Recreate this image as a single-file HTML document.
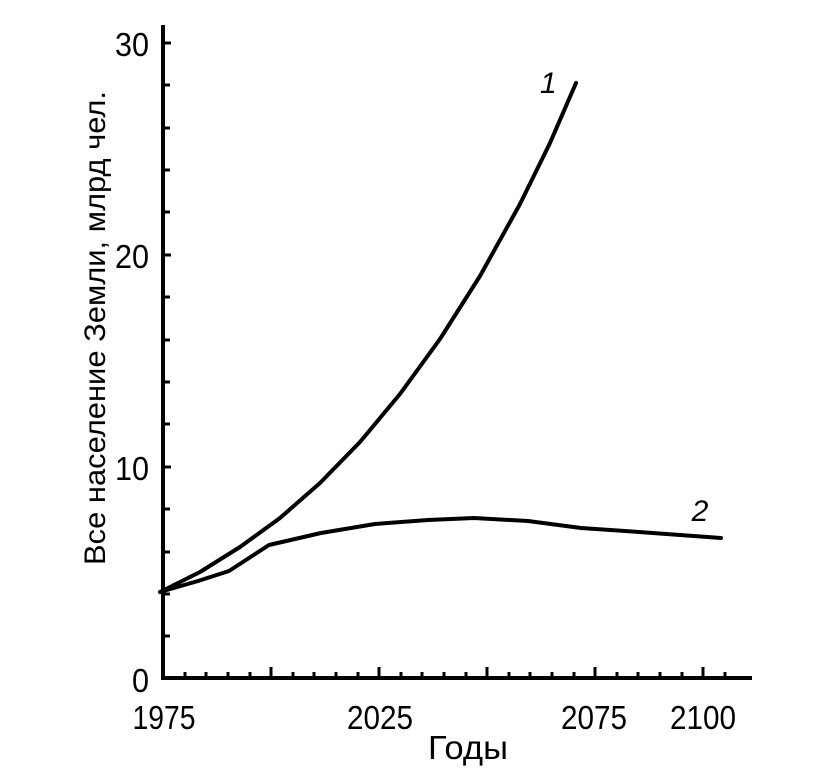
<!DOCTYPE html>
<html><head><meta charset="utf-8"><style>html,body{margin:0;padding:0;background:#fff}</style></head>
<body>
<svg width="836" height="773" viewBox="0 0 836 773" xmlns="http://www.w3.org/2000/svg" font-family="Liberation Sans, sans-serif">
<rect width="836" height="773" fill="#fff"/>
<g stroke="#000" stroke-width="4" fill="none">
<line x1="163" y1="25" x2="163" y2="680"/>
<line x1="161" y1="678" x2="752" y2="678"/>
</g>
<g stroke="#000" stroke-width="3">
<line x1="163" y1="43" x2="171" y2="43"/>
<line x1="163" y1="85" x2="170" y2="85"/>
<line x1="163" y1="128" x2="170" y2="128"/>
<line x1="163" y1="170" x2="170" y2="170"/>
<line x1="163" y1="212" x2="170" y2="212"/>
<line x1="163" y1="255" x2="171" y2="255"/>
<line x1="163" y1="297" x2="170" y2="297"/>
<line x1="163" y1="340" x2="170" y2="340"/>
<line x1="163" y1="382" x2="170" y2="382"/>
<line x1="163" y1="424" x2="170" y2="424"/>
<line x1="163" y1="467" x2="171" y2="467"/>
<line x1="163" y1="509" x2="170" y2="509"/>
<line x1="163" y1="552" x2="170" y2="552"/>
<line x1="163" y1="594" x2="170" y2="594"/>
<line x1="163" y1="636" x2="170" y2="636"/>
</g>
<g stroke="#000" stroke-width="3">
<line x1="185" y1="678" x2="185" y2="672"/>
<line x1="206" y1="678" x2="206" y2="672"/>
<line x1="228" y1="678" x2="228" y2="672"/>
<line x1="250" y1="678" x2="250" y2="672"/>
<line x1="271" y1="678" x2="271" y2="667"/>
<line x1="293" y1="678" x2="293" y2="672"/>
<line x1="314" y1="678" x2="314" y2="672"/>
<line x1="336" y1="678" x2="336" y2="672"/>
<line x1="358" y1="678" x2="358" y2="672"/>
<line x1="379" y1="678" x2="379" y2="667"/>
<line x1="401" y1="678" x2="401" y2="672"/>
<line x1="422" y1="678" x2="422" y2="672"/>
<line x1="444" y1="678" x2="444" y2="672"/>
<line x1="466" y1="678" x2="466" y2="672"/>
<line x1="487" y1="678" x2="487" y2="667"/>
<line x1="509" y1="678" x2="509" y2="672"/>
<line x1="530" y1="678" x2="530" y2="672"/>
<line x1="552" y1="678" x2="552" y2="672"/>
<line x1="574" y1="678" x2="574" y2="672"/>
<line x1="595" y1="678" x2="595" y2="667"/>
<line x1="617" y1="678" x2="617" y2="672"/>
<line x1="638" y1="678" x2="638" y2="672"/>
<line x1="660" y1="678" x2="660" y2="672"/>
<line x1="682" y1="678" x2="682" y2="672"/>
<line x1="703" y1="678" x2="703" y2="667"/>
<line x1="725" y1="678" x2="725" y2="672"/>
</g>
<g fill="none" stroke="#000" stroke-width="4" stroke-linejoin="round" stroke-linecap="round">
<polyline points="160,592 200,572 240,547 280,518 320,483 360,442 400,394 440,339 480,276 520,204 550,143 576,83"/>
<polyline points="160,592 198,581 229,571 269,545 321,533 375,524 428,520 474,518 528,521 581,528 639,532 721,538"/>
</g>
<g font-size="33" fill="#000">
<text x="149" y="56" text-anchor="end" textLength="34" lengthAdjust="spacingAndGlyphs">30</text>
<text x="149" y="268" text-anchor="end" textLength="34" lengthAdjust="spacingAndGlyphs">20</text>
<text x="149" y="480" text-anchor="end" textLength="34" lengthAdjust="spacingAndGlyphs">10</text>
<text x="149" y="692" text-anchor="end" textLength="17" lengthAdjust="spacingAndGlyphs">0</text>
<text x="164" y="729" text-anchor="middle" textLength="63" lengthAdjust="spacingAndGlyphs">1975</text>
<text x="380" y="729" text-anchor="middle" textLength="66" lengthAdjust="spacingAndGlyphs">2025</text>
<text x="594" y="729" text-anchor="middle" textLength="66" lengthAdjust="spacingAndGlyphs">2075</text>
<text x="703" y="729" text-anchor="middle" textLength="66" lengthAdjust="spacingAndGlyphs">2100</text>
<text x="468" y="759" text-anchor="middle" textLength="80" lengthAdjust="spacingAndGlyphs">Годы</text>
<text x="540" y="93" font-style="italic" font-size="30">1</text>
<text x="700" y="521" font-style="italic" text-anchor="middle" font-size="30">2</text>
<text transform="translate(105,328) rotate(-90)" text-anchor="middle" font-size="30" textLength="474" lengthAdjust="spacingAndGlyphs">Все население Земли, млрд чел.</text>
</g>
</svg>
</body></html>
